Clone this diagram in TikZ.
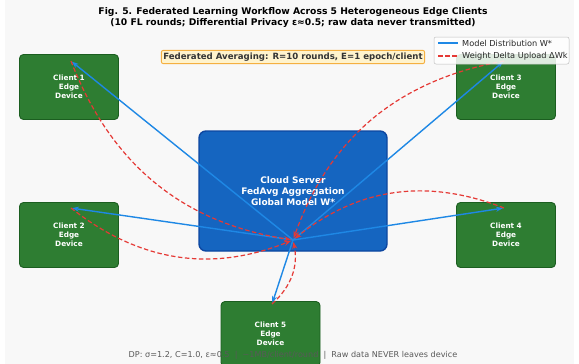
\documentclass[tikz,border=0pt]{standalone}
\usepackage{fontspec}
\setmainfont{DejaVu Sans}
\usetikzlibrary{arrows.meta}
\definecolor{srvblue}{HTML}{1565C0}
\definecolor{srvedge}{HTML}{0D47A1}
\definecolor{cligreen}{HTML}{2E7D32}
\definecolor{cliedge}{HTML}{1B5E20}
\definecolor{distblue}{HTML}{1E88E5}
\definecolor{uplred}{HTML}{E53935}
\definecolor{notefill}{HTML}{FFF3CD}
\definecolor{notedraw}{HTML}{F5B041}
\definecolor{bggrey}{HTML}{F8F8F8}
\begin{document}
\begin{tikzpicture}[x=1pt,y=-1pt,
			server/.style={rectangle,rounded corners=7pt,draw=srvedge,line width=1.4pt,fill=srvblue,text=white,
				font=\fontsize{9}{11}\selectfont\bfseries,align=center,minimum width=188pt,minimum height=120pt},
			client/.style={rectangle,rounded corners=4pt,draw=cliedge,line width=0.9pt,fill=cligreen,text=white,
				font=\fontsize{7.3}{9}\selectfont\bfseries,align=center,minimum width=99pt,minimum height=65pt},
			note/.style={rectangle,rounded corners=2pt,draw=notedraw,line width=0.9pt,fill=notefill,text=black!80,
				font=\fontsize{8.6}{10}\selectfont\bfseries,inner xsep=2pt,inner ysep=2.5pt},
			ttl/.style={align=center,font=\fontsize{9.2}{11}\selectfont\bfseries},
			foot/.style={text=black!65,font=\fontsize{8.1}{9}\selectfont},
			legbox/.style={rectangle,rounded corners=2pt,draw=black!25,line width=0.5pt,fill=white,fill opacity=0.85,
				minimum width=135pt,minimum height=27pt,inner sep=0pt},
			legtxt/.style={anchor=west,inner sep=0pt,text=black!85,font=\fontsize{8.2}{9}\selectfont},
			dist/.style={draw=distblue,line width=1.4pt,-{Stealth[length=7pt,width=5pt]},shorten >=1pt},
			upl/.style={draw=uplred,line width=1.2pt,dash pattern=on 4.5pt off 2.5pt,-{Stealth[length=7pt,width=5pt]},
				shorten >=2pt,bend right=30},
			inner sep=0pt]
	\useasboundingbox (0,0) rectangle (579,364);
	\fill[white] (0,0) rectangle (579,364);
	\fill[bggrey] (5,0) rectangle (574,364);
	\node [ttl] (title) at (293,17.5) {Fig. 5. Federated Learning Workflow Across 5 Heterogeneous Edge Clients\\
		(10 FL rounds; Differential Privacy ε≈0.5; raw data never transmitted)};
	\node [note] (fedavg) at (293,57) {Federated Averaging: R=10 rounds, E=1 epoch/client};
	\node [server] (srv) at (293,191) {Cloud Server\\FedAvg Aggregation\\Global Model W*};
	\node [client] (c1) at (69,87) {Client 1\\Edge\\Device};
	\node [client] (c2) at (69,235) {Client 2\\Edge\\Device};
	\node [client] (c3) at (506,87) {Client 3\\Edge\\Device};
	\node [client] (c4) at (506,235) {Client 4\\Edge\\Device};
	\node [client] (c5) at (270.5,334) {Client 5\\Edge\\Device};
	\coordinate (hub) at (293,240);
	\coordinate (p1) at (71,61);
	\coordinate (p2) at (71,208);
	\coordinate (p3) at (504,61);
	\coordinate (p4) at (504,208);
	\coordinate (p5) at (272,304);
	\foreach \c in {1,...,5}
		\draw [dist] (hub) -- (p\c);
	\foreach \c in {1,...,5}
		\draw [upl] (p\c) to (hub);
	\node [foot] (dp) at (293,355) {DP: σ=1.2, C=1.0, ε≈0.5\ \ |\ \ \textasciitilde1MB/client/round\ \ |\ \ Raw data NEVER leaves device};
	\node [legbox] (leg) at (501.5,50.5) {};
	\draw [distblue,line width=1.4pt] (438,43) -- (458,43);
	\node [legtxt] (legd) at (462,43) {Model Distribution W*};
	\draw [uplred,line width=1.2pt,dash pattern=on 4.5pt off 2.5pt] (438,56) -- (458,56);
	\node [legtxt] (legu) at (462,56) {Weight Delta Upload ΔWk};
\end{tikzpicture}
\end{document}
